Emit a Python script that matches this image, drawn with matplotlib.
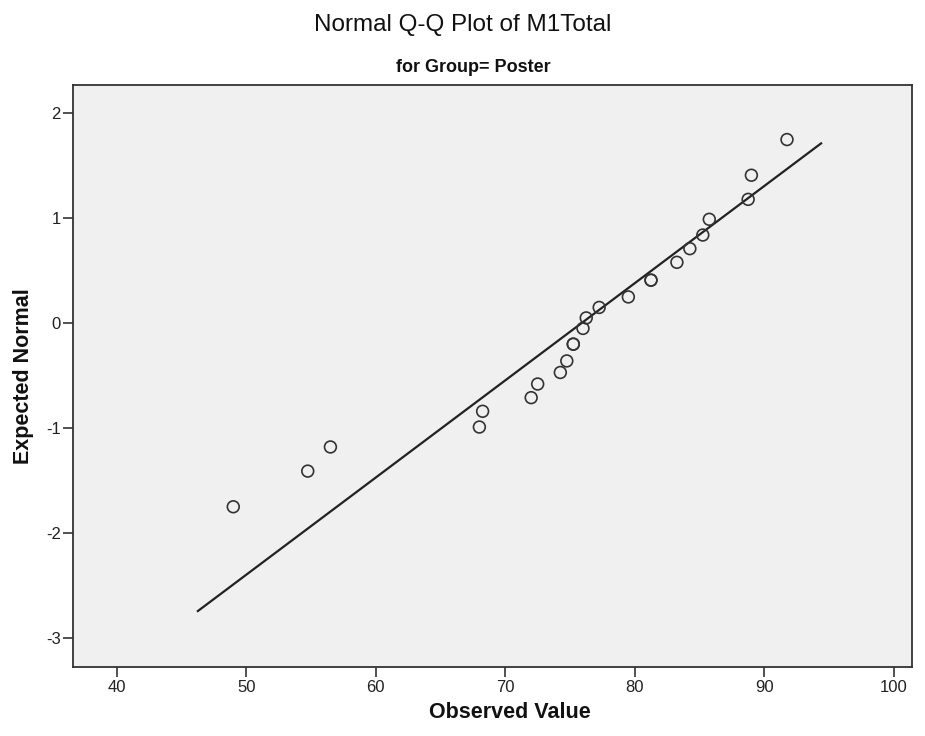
import matplotlib
matplotlib.use("Agg")
import matplotlib.pyplot as plt

# ================= DATA =================
# observed M1Total values (sorted) and their expected normal scores
observed = [49.0, 54.75, 56.5, 68.0, 68.25, 72.0, 72.5, 74.25, 74.75, 75.25,
            75.25, 76.0, 76.25, 77.25, 79.5, 81.25, 81.25, 83.25, 84.25,
            85.25, 85.75, 88.75, 89.0, 91.75]
expected = [-1.75, -1.41, -1.18, -0.99, -0.84, -0.71, -0.58, -0.47, -0.36,
            -0.20, -0.20, -0.05, 0.05, 0.15, 0.25, 0.41, 0.41, 0.58, 0.71,
            0.84, 0.99, 1.18, 1.41, 1.75]

# reference line ends
line_x = [46.2, 94.45]
line_y = [-2.75, 1.72]

x_ticks = [40, 50, 60, 70, 80, 90, 100]
y_ticks = [-3, -2, -1, 0, 1, 2]

TITLE = "Normal Q-Q Plot of M1Total"
SUBTITLE = "for Group= Poster"
XLABEL = "Observed Value"
YLABEL = "Expected Normal"

# ================= STYLE =================
plt.rcParams["font.family"] = ["Liberation Sans", "DejaVu Sans"]
plt.rcParams["axes.unicode_minus"] = False
W, H = 925, 736

fig = plt.figure(figsize=(W / 100, H / 100), dpi=100)
ax = fig.add_axes([73.3 / W, 1 - 667.3 / H, (912 - 73.3) / W, (667.3 - 85) / H])
ax.set_facecolor("#f0f0f0")

ax.plot(line_x, line_y, color="#222222", lw=1.6, solid_capstyle="butt", zorder=2)
ax.scatter(observed, expected, s=72, facecolors="none", edgecolors="#333333",
           linewidths=1.2, zorder=3)

ax.set_xlim(36.65, 101.4)
ax.set_ylim(-3.28, 2.27)
ax.set_xticks(x_ticks)
ax.set_yticks(y_ticks)
ax.tick_params(direction="out", length=7, width=1.2, color="#333333",
               labelsize=12, pad=2, labelcolor="#222222")

for sp in ax.spines.values():
    sp.set_color("#333333")
    sp.set_linewidth(1.3)

# ================= TEXT =================
fig.text(462.5 / W, 1 - 25 / H, TITLE, ha="center", va="center", fontsize=17.5,
         color="#111111")
fig.text(473.5 / W, 1 - 67 / H, SUBTITLE, ha="center", va="center", fontsize=13,
         fontweight="bold", color="#111111")
fig.text(510 / W, 1 - 713 / H, XLABEL, ha="center", va="center", fontsize=15.5,
         fontweight="bold", color="#111111")
fig.text(24 / W, 1 - 376 / H, YLABEL, ha="center", va="center", fontsize=15.5,
         fontweight="bold", rotation=90, color="#111111")

fig.savefig("out.png", dpi=100, facecolor="white")
